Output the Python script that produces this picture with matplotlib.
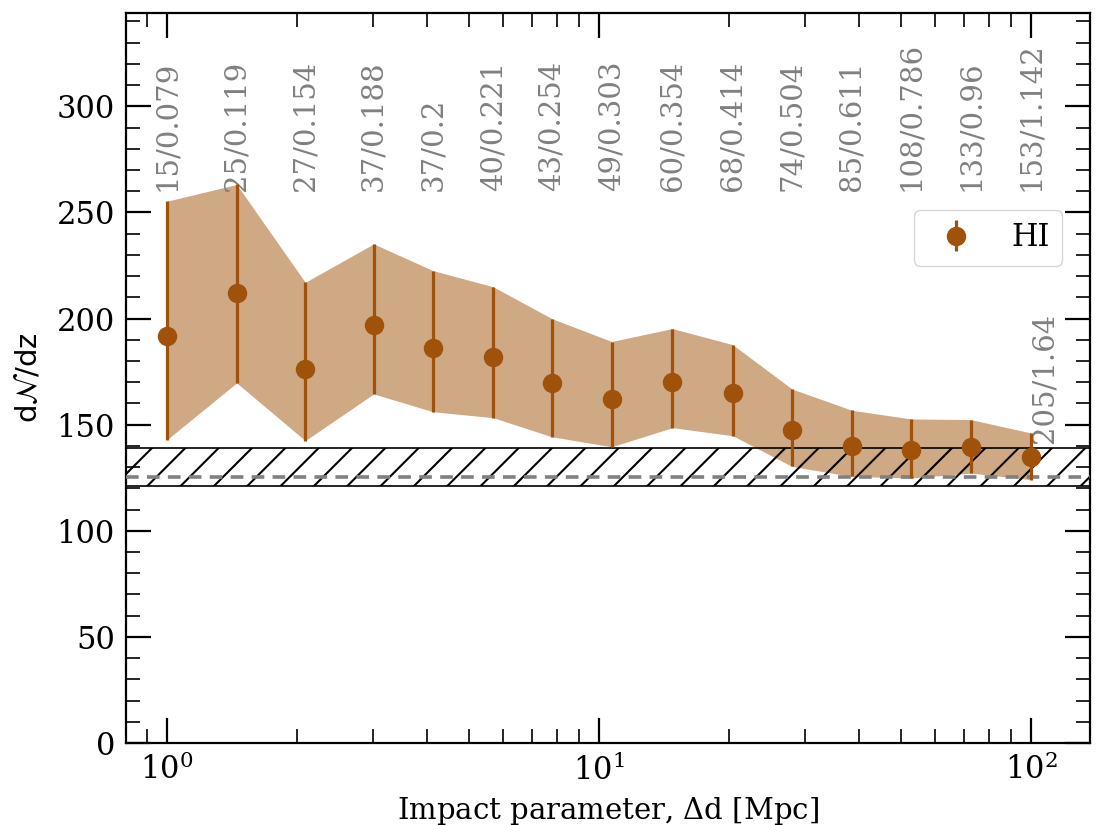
import matplotlib
matplotlib.use('Agg')
import matplotlib.pyplot as plt
from matplotlib.ticker import MultipleLocator
import numpy as np

plt.rcParams['font.family'] = 'DejaVu Serif'
plt.rcParams['mathtext.fontset'] = 'dejavuserif'
plt.rcParams['hatch.linewidth'] = 1.5
plt.rcParams['axes.linewidth'] = 1.6

# impact-parameter bins and dN/dz with its 1-sigma range
dist = [1.0, 1.45, 2.09, 3.01, 4.13, 5.69, 7.78, 10.7, 14.8, 20.4, 28.0, 38.5, 52.8, 72.6, 100.0]
dndz = [191.7, 212.1, 176.3, 197.2, 186.3, 182.0, 169.8, 162.3, 170.3, 164.9, 147.6, 139.8, 138.2, 139.3, 134.6]
upper = [255.3, 263.2, 217.1, 235.2, 222.6, 215.0, 200.0, 189.2, 195.3, 187.7, 166.8, 156.8, 152.7, 152.4, 146.1]
lower = [142.9, 169.7, 142.5, 164.5, 156.1, 153.3, 144.3, 139.6, 148.6, 144.8, 130.3, 125.6, 124.9, 127.2, 124.1]
counts = ['15/0.079', '25/0.119', '27/0.154', '37/0.188', '37/0.2', '40/0.221', '43/0.254', '49/0.303',
          '60/0.354', '68/0.414', '74/0.504', '85/0.611', '108/0.786', '133/0.96', '153/1.142', '205/1.64']

# field (random-position) level
field_lo, field_hi, field_mid = 121.0, 139.0, 125.5

COL = '#a0520a'

fig = plt.figure(figsize=(11.03, 8.25), dpi=100)
ax = fig.add_axes([126 / 1103, 1 - 743 / 825, 964 / 1103, 730 / 825])

d = np.array(dist); y = np.array(dndz); hi = np.array(upper); lo = np.array(lower)
ax.fill_between(d, lo, hi, color=COL, alpha=0.5, lw=0)
ax.errorbar(d, y, yerr=[y - lo, hi - y], fmt='o', color=COL, ms=13, elinewidth=2.3,
            capsize=0, label='HI', zorder=4)

ax.axhspan(field_lo, field_hi, facecolor='none', edgecolor='black', hatch='/', lw=1.2, zorder=2)
ax.axhline(field_mid, color='gray', lw=2.6, dashes=(3.5, 2.3), zorder=3)

# number of systems / path length per bin
for xi, s in zip(dist, counts[:-1]):
    ax.text(xi, 260, s, rotation=90, ha='center', va='bottom', fontsize=21, color='gray')
ax.text(dist[-1], 141.5, counts[-1], rotation=90, ha='left', va='bottom', fontsize=21, color='gray')

ax.set_xscale('log')
ax.set_xlim(0.804, 137)
ax.set_ylim(0, 344)
ax.yaxis.set_major_locator(MultipleLocator(50))
ax.yaxis.set_minor_locator(MultipleLocator(10))
ax.tick_params(which='both', direction='in', top=True, right=True, labelsize=22)
ax.tick_params(which='major', length=18, width=1.6, pad=8)
ax.tick_params(which='minor', length=10, width=1.2)

ax.set_xlabel(r'Impact parameter, $\Delta$d [Mpc]', fontsize=21, labelpad=6)
ax.set_ylabel(r'd$\mathcal{N}$/dz', fontsize=21, family='DejaVu Sans', labelpad=10)

ax.legend(loc='upper right', bbox_to_anchor=(0.971, 0.730), borderaxespad=0, fontsize=22)

fig.savefig('out.png', dpi=100)
